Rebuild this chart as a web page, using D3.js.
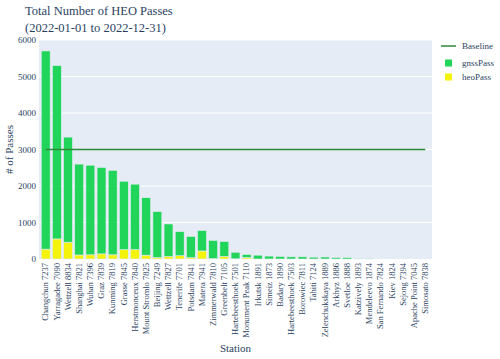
<!DOCTYPE html>
<html>
<head>
<meta charset="utf-8">
<script src="https://cdn.jsdelivr.net/npm/d3@7"></script>
<style>
  body { margin: 0; background: #fff; }
  svg text { font-family: "Liberation Serif", "Times New Roman", Times, "DejaVu Serif", serif !important; fill: #2a3f5f; }
</style>
</head>
<body>
<div id="chart"></div>
<script>
// data
var stations = ["Changchun 7237", "Yarragadee 7090", "Wettzell 8834", "Shanghai 7821", "Wuhan 7396",
    "Graz 7839", "Kunming 7819", "Grasse 7845", "Herstmonceux 7840", "Mount Stromlo 7825",
    "Beijing 7249", "Wettzell 7827", "Tenerife 7701", "Potsdam 7841", "Matera 7941",
    "Zimmerwald 7810", "Greenbelt 7105", "Hartebeesthoek 7501", "Monument Peak 7110", "Irkutsk 1891",
    "Simeiz 1873", "Badary 1890", "Hartebeesthoek 7503", "Borowiec 7811", "Tahiti 7124",
    "Zelenchukskaya 1889", "Arkhyz 1886", "Svetloe 1888", "Katzively 1893", "Mendeleevo 1874",
    "San Fernando 7824", "Kiev 1824", "Sejong 7394", "Apache Point 7045", "Simosato 7838"];
var heoPass = [270, 550, 460, 110, 115, 140, 115, 255, 255, 105,
    40, 70, 90, 35, 220, 10, 70, 5, 40, 0,
    0, 0, 0, 0, 0, 0, 0, 0, 0, 0,
    0, 0, 0, 0, 0];
var gnssPass = [5430, 4750, 2880, 2490, 2455, 2370, 2315, 1875, 1795, 1575,
    1260, 890, 660, 585, 560, 500, 410, 180, 85, 105,
    80, 70, 60, 60, 50, 55, 40, 40, 5, 5,
    0, 0, 0, 0, 0];
var baseline = 3000;
var yTicks = [0, 1000, 2000, 3000, 4000, 5000, 6000];

var width = 500, height = 359;
var margin = { top: 40, right: 68, bottom: 100, left: 39 };
var plotW = width - margin.left - margin.right,
    plotH = height - margin.top - margin.bottom;

var green = "#21d45a", yellow = "#f3f30c", lineGreen = "#2e8b3a";
var serif = "'Liberation Serif', 'Times New Roman', serif";

var svg = d3.select("#chart").append("svg")
    .attr("width", width)
    .attr("height", height)
    .attr("font-family", serif);

var x = d3.scaleBand()
    .domain(stations)
    .range([0, plotW])
    .padding(0.2);

var y = d3.scaleLinear()
    .domain([0, 6000])
    .range([plotH, 0]);

var g = svg.append("g").attr("transform", "translate(" + margin.left + "," + margin.top + ")");

g.append("rect")
    .attr("width", plotW).attr("height", plotH)
    .attr("fill", "#e5ecf6");

// grid
g.selectAll("line.grid")
    .data(yTicks.slice(1))
    .enter().append("line")
    .attr("class", "grid")
    .attr("x1", 0).attr("x2", plotW)
    .attr("y1", function (d) { return y(d); })
    .attr("y2", function (d) { return y(d); })
    .attr("stroke", "#fff").attr("stroke-width", 1);

var rows = stations.map(function (s, i) {
    return { station: s, heo: heoPass[i], gnss: gnssPass[i] };
});
var stacked = d3.stack().keys(["heo", "gnss"])(rows);
var colors = { heo: yellow, gnss: green };

stacked.forEach(function (layer) {
    g.append("g").selectAll("rect")
        .data(layer)
        .enter().append("rect")
        .attr("x", function (d) { return x(d.data.station); })
        .attr("y", function (d) { return y(d[1]); })
        .attr("width", x.bandwidth())
        .attr("height", function (d) { return y(d[0]) - y(d[1]); })
        .attr("fill", colors[layer.key])
        .attr("stroke", "#e5ecf6")
        .attr("stroke-width", 0.6);
});

// baseline
var line = d3.line()
    .x(function (d) { return x(d) + x.bandwidth() / 2; })
    .y(function () { return y(baseline); });
g.append("path")
    .datum(stations)
    .attr("d", line)
    .attr("fill", "none")
    .attr("stroke", lineGreen)
    .attr("stroke-width", 1.3);

// axes
var yAxis = g.append("g")
    .call(d3.axisLeft(y).tickValues(yTicks).tickSize(0).tickPadding(3).tickFormat(d3.format("d")));
yAxis.attr("font-family", serif);
yAxis.select(".domain").remove();
yAxis.selectAll("text").style("font-size", "9px").attr("dy", "0.32em");

var xAxis = g.append("g")
    .attr("transform", "translate(0," + plotH + ")")
    .call(d3.axisBottom(x).tickSize(0));
xAxis.attr("font-family", serif);
xAxis.select(".domain").remove();
xAxis.selectAll("text")
    .style("font-size", "8.5px")
    .attr("transform", "rotate(-90)")
    .attr("text-anchor", "end")
    .attr("x", -4)
    .attr("y", 0)
    .attr("dy", "0.32em");

svg.append("text")
    .attr("x", margin.left + plotW / 2)
    .attr("y", 352)
    .attr("text-anchor", "middle")
    .style("font-size", "11px")
    .text("Station");

svg.append("text")
    .attr("transform", "translate(13," + (margin.top + plotH / 2) + ") rotate(-90)")
    .attr("text-anchor", "middle")
    .style("font-size", "11px")
    .text("# of Passes");

// title
svg.append("text")
    .attr("x", 25).attr("y", 15)
    .style("font-size", "12.5px")
    .text("Total Number of HEO Passes");
svg.append("text")
    .attr("x", 25).attr("y", 32)
    .style("font-size", "12.5px")
    .text("(2022-01-01 to 2022-12-31)");

// legend
var leg = svg.append("g").attr("transform", "translate(441,46)");
leg.append("line")
    .attr("x1", 0).attr("x2", 15).attr("y1", 0).attr("y2", 0)
    .attr("stroke", lineGreen).attr("stroke-width", 1.5);
leg.append("text").attr("x", 21).attr("y", 0).attr("dy", "0.32em")
    .style("font-size", "9px").text("Baseline");
var items = [["gnssPass", green], ["heoPass", yellow]];
items.forEach(function (it, i) {
    var yy = 17 + i * 14;
    leg.append("rect")
        .attr("x", 4).attr("y", yy - 3.5).attr("width", 7).attr("height", 7)
        .attr("fill", it[1]);
    leg.append("text").attr("x", 21).attr("y", yy).attr("dy", "0.32em")
        .style("font-size", "9px").text(it[0]);
});
</script>
</body>
</html>
